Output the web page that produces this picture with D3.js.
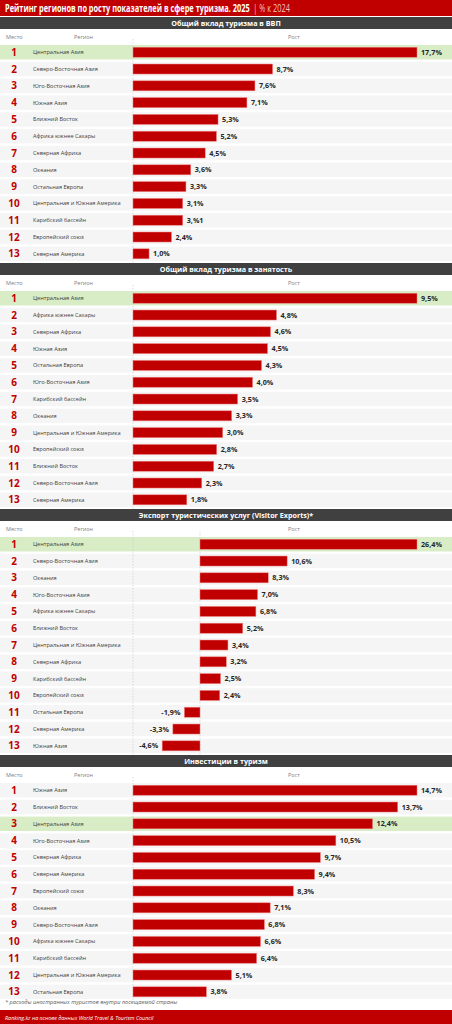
<!DOCTYPE html>
<html>
<head>
<meta charset="utf-8">
<script src="https://cdn.jsdelivr.net/npm/d3@7"></script>
<style>
  body { margin: 0; background: #fff; }
  svg { display: block; font-family: "Open Sans", "Liberation Sans", sans-serif; }
</style>
</head>
<body>
<div id="chart"></div>
<script>
const width = 452, height = 1024;

const sectionTitles = [
  "Общий вклад туризма в ВВП",
  "Общий вклад туризма в занятость",
  "Экспорт туристических услуг (Visitor Exports)*",
  "Инвестиции в туризм"
];

const gdpRegions = ["Центральная Азия", "Северо-Восточная Азия", "Юго-Восточная Азия", "Южная Азия", "Ближний Восток", "Африка южнее Сахары", "Северная Африка", "Океания", "Остальная Европа", "Центральная и Южная Америка", "Карибский бассейн", "Европейский союз", "Северная Америка"];
const gdpValues = [17.7, 8.7, 7.6, 7.1, 5.3, 5.2, 4.5, 3.6, 3.3, 3.1, 3.1, 2.4, 1.0];

const jobsRegions = ["Центральная Азия", "Африка южнее Сахары", "Северная Африка", "Южная Азия", "Остальная Европа", "Юго-Восточная Азия", "Карибский бассейн", "Океания", "Центральная и Южная Америка", "Европейский союз", "Ближний Восток", "Северо-Восточная Азия", "Северная Америка"];
const jobsValues = [9.5, 4.8, 4.6, 4.5, 4.3, 4.0, 3.5, 3.3, 3.0, 2.8, 2.7, 2.3, 1.8];

const exportRegions = ["Центральная Азия", "Северо-Восточная Азия", "Океания", "Юго-Восточная Азия", "Африка южнее Сахары", "Ближний Восток", "Центральная и Южная Америка", "Северная Африка", "Карибский бассейн", "Европейский союз", "Остальная Европа", "Северная Америка", "Южная Азия"];
const exportValues = [26.4, 10.6, 8.3, 7.0, 6.8, 5.2, 3.4, 3.2, 2.5, 2.4, -1.9, -3.3, -4.6];

const investRegions = ["Южная Азия", "Ближний Восток", "Центральная Азия", "Юго-Восточная Азия", "Северная Африка", "Северная Америка", "Европейский союз", "Океания", "Северо-Восточная Азия", "Африка южнее Сахары", "Карибский бассейн", "Центральная и Южная Америка", "Остальная Европа"];
const investValues = [14.7, 13.7, 12.4, 10.5, 9.7, 9.4, 8.3, 7.1, 6.8, 6.6, 6.4, 5.1, 3.8];

// label as printed in the source (typo kept)
const labelOverrides = { "0-10": "3,%1" };
const highlight = "Центральная Азия";

const sections = [
  { title: sectionTitles[0], regions: gdpRegions, values: gdpValues },
  { title: sectionTitles[1], regions: jobsRegions, values: jobsValues },
  { title: sectionTitles[2], regions: exportRegions, values: exportValues },
  { title: sectionTitles[3], regions: investRegions, values: investValues }
];

const red = "#c00000";
const fmt = v => d3.format(".1f")(v).replace(".", ",").replace("−", "-") + "%";

const svg = d3.select("#chart").append("svg")
  .attr("width", width).attr("height", height)
  .attr("viewBox", [0, 0, width, height]);

// Title bar (narrowed horizontally, like the condensed original)
svg.append("rect").attr("x", 0).attr("y", 0).attr("width", width).attr("height", 16).attr("fill", red);
const titleG = svg.append("g").attr("transform", "translate(5, 12) scale(0.74, 1)")
  .style("font-size", "10px");
const titleMain = titleG.append("text").attr("x", 0).attr("y", 0)
  .attr("fill", "#fff").attr("font-weight", "bold")
  .text("Рейтинг регионов по росту показателей в сфере туризма. 2025");
const mainW = titleMain.node().getComputedTextLength();
titleG.append("text").attr("x", mainW + 5).attr("y", 0)
  .attr("fill", "#f4c0c0")
  .text("| % к 2024");

const sectionH = 246, sectionTop0 = 17;
const barLeft = 133, barRight = 417;
const rowStep = 16.8, rowPad = 0.14, rowsTop = 28;

sections.forEach((sec, si) => {
  const top = sectionTop0 + si * sectionH;
  const g = svg.append("g").attr("transform", `translate(0, ${top})`);

  // Section header
  g.append("rect").attr("x", 0).attr("y", 0).attr("width", width).attr("height", 12).attr("fill", "#404040");
  g.append("text").attr("x", width / 2).attr("y", 8.6)
    .attr("text-anchor", "middle").attr("fill", "#fff")
    .attr("font-weight", "bold").style("font-size", "7.2px")
    .text(sec.title);

  // Column headers
  const hdr = g.append("g").style("font-size", "5.5px").attr("fill", "#808080");
  hdr.append("text").attr("x", 6).attr("y", 22).text("Место");
  hdr.append("text").attr("x", 74).attr("y", 22).text("Регион");
  hdr.append("text").attr("x", 288).attr("y", 22).text("Рост");

  const rows = sec.regions.map((r, i) => ({ rank: i + 1, region: r, value: sec.values[i], key: `${si}-${i}` }));

  const y = d3.scaleBand()
    .domain(rows.map(d => d.rank))
    .range([rowsTop, rowsTop + rowStep * (rows.length - rowPad)])
    .paddingInner(rowPad);
  const bw = y.bandwidth();

  const hasNeg = d3.min(sec.values) < 0;
  const zeroX = hasNeg ? 200 : barLeft;
  const x = d3.scaleLinear()
    .domain([0, d3.max(sec.values)])
    .range([zeroX, barRight]);

  // row backgrounds
  g.append("g").selectAll("rect").data(rows).join("rect")
    .attr("x", 0).attr("y", d => y(d.rank)).attr("width", width).attr("height", bw)
    .attr("fill", d => d.region === highlight ? "#d8ecc6" : "#f5f5f5");

  // dotted guides
  const guides = hasNeg ? [barLeft, zeroX] : [barLeft];
  g.append("g").selectAll("line").data(guides).join("line")
    .attr("x1", d => d).attr("x2", d => d)
    .attr("y1", rowsTop - 6).attr("y2", rowsTop + rowStep * rows.length)
    .attr("stroke", "#c8c8c8").attr("stroke-width", 0.6)
    .attr("stroke-dasharray", "1.5,1.5");

  const row = g.append("g").selectAll("g").data(rows).join("g")
    .attr("transform", d => `translate(0, ${y(d.rank)})`);

  row.append("text")
    .attr("x", 14).attr("y", bw / 2 + 3.6)
    .attr("text-anchor", "middle").attr("fill", red)
    .attr("font-weight", "bold").style("font-size", "10px")
    .text(d => d.rank);

  row.append("text")
    .attr("x", 33).attr("y", bw / 2 + 2)
    .attr("fill", "#404040").style("font-size", "5.6px")
    .text(d => d.region);

  const barH = 10;
  row.append("rect")
    .attr("x", d => Math.min(x(0), x(d.value)))
    .attr("y", (bw - barH) / 2)
    .attr("width", d => Math.abs(x(d.value) - x(0)))
    .attr("height", barH)
    .attr("fill", red)
    .attr("stroke", "#f08080").attr("stroke-width", 0.5);

  row.append("text")
    .attr("x", d => d.value >= 0 ? x(d.value) + 4 : x(d.value) - 4)
    .attr("y", bw / 2 + 2.6)
    .attr("text-anchor", d => d.value >= 0 ? "start" : "end")
    .attr("fill", "#262626").attr("font-weight", "bold")
    .style("font-size", "7.2px")
    .text(d => labelOverrides[d.key] || fmt(d.value));
});

// Footnote and footer
svg.append("text").attr("x", 5).attr("y", 1004)
  .attr("fill", "#595959").attr("font-style", "italic").style("font-size", "5.6px")
  .text("* расходы иностранных туристов внутри посещаемой страны");

svg.append("rect").attr("x", 0).attr("y", 1010).attr("width", width).attr("height", 14).attr("fill", red);
svg.append("text").attr("x", 5).attr("y", 1019.5)
  .attr("fill", "#fff").attr("font-style", "italic").style("font-size", "5.4px")
  .text("Ranking.kz на основе данных World Travel & Tourism Council");
</script>
</body>
</html>
